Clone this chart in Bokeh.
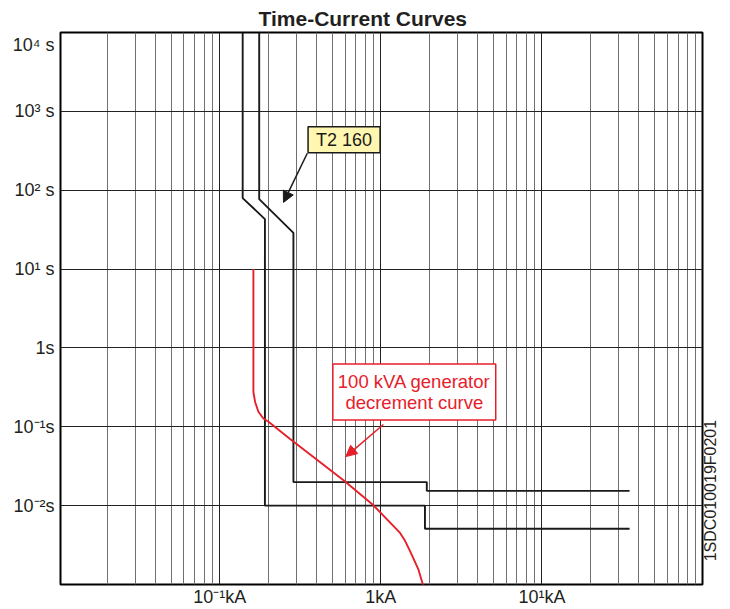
import math
from bokeh.plotting import figure
from bokeh.models import Range1d, FixedTicker, Label, Arrow, NormalHead, LogAxis
from bokeh.embed import file_html
from bokeh.resources import INLINE

# ---- data (kA, s) ----
t2_a_current = [0.139, 0.139, 0.191, 0.191, 1.88, 1.88, 35.0]
t2_a_time = [1e4, 79.5, 43.0, 0.01, 0.01, 0.0051, 0.0051]
t2_b_current = [0.176, 0.176, 0.287, 0.287, 1.93, 1.93, 35.0]
t2_b_time = [1e4, 77.0, 28.8, 0.0199, 0.0199, 0.0154, 0.0154]

gen_current = [0.162, 0.162, 0.166, 0.174, 0.1869, 0.201, 0.2737, 0.6006,
               0.900, 1.317, 1.414, 1.52, 1.711, 1.83]
gen_time = [10.0, 0.276, 0.2066, 0.155, 0.1273, 0.1156, 0.0698, 0.0202,
            0.0101, 0.00451, 0.00358, 0.00265, 0.00156, 0.00098]

x_major = [0.01, 0.1, 1, 10, 100]
x_labels = {0.01: "", 0.1: "10\u207b\u00b9kA", 1: "1kA", 10: "10\u00b9kA", 100: ""}
y_grid = [1e-3, 1e-2, 1e-1, 1, 10, 100, 1e3, 1e4]
top_label_pos = 6850.0   # the 10^4 label sits a little below the top edge
y_ticks = [1e-2, 1e-1, 1, 10, 100, 1e3, top_label_pos]
y_labels = {1e-2: "10\u207b\u00b2s", 1e-1: "10\u207b\u00b9s", 1: "1s",
            10: "10\u00b9 s", 100: "10\u00b2 s", 1e3: "10\u00b3 s",
            top_label_pos: "10\u2074 s"}

t2_text = "T2 160"
t2_text_pos = (0.592, 438.0)
t2_arrow = (0.350, 294.0, 0.249, 70.0)
gen_text = "100 kVA generator\ndecrement curve"
gen_text_pos = (1.614, 0.277)
gen_arrow = (1.038, 0.107, 0.607, 0.0419)
code_text = "1SDC010019F0201"
code_pos = 0.00197

RED = "#e6202b"
INK = "#231f20"
FONT = "Liberation Sans"

p = figure(width=730, height=609, x_axis_type="log", y_axis_type="log",
           x_range=Range1d(0.01029, 99.2), y_range=Range1d(1e-3, 1e4),
           output_backend="svg", toolbar_location=None,
           min_border_left=60, min_border_right=27, min_border_top=32,
           min_border_bottom=23)

p.title.text = "Time-Current Curves"
p.title.text_font = FONT
p.title.text_font_size = "21px"
p.title.text_font_style = "bold"
p.title.text_color = INK
p.title.align = "left"
p.title.offset = 198
p.title.standoff = 5

p.outline_line_color = "black"
p.outline_line_width = 2
p.background_fill_color = "white"
p.border_fill_color = "white"

minor = [k * 10.0 ** e for e in range(-2, 2) for k in range(2, 10)]
xax = p.xaxis[0]
yax = p.yaxis[0]
xax.ticker = FixedTicker(ticks=x_major, minor_ticks=minor)
xax.major_label_overrides = x_labels
yax.ticker = FixedTicker(ticks=y_ticks, minor_ticks=[])
yax.major_label_overrides = y_labels

p.xgrid[0].ticker = FixedTicker(ticks=x_major, minor_ticks=minor)
p.ygrid[0].ticker = FixedTicker(ticks=y_grid, minor_ticks=[])

right = LogAxis(ticker=FixedTicker(ticks=[code_pos], minor_ticks=[]),
                major_label_overrides={code_pos: code_text},
                major_label_orientation=math.pi / 2)
p.add_layout(right, "right")

for ax in (xax, yax, right):
    ax.axis_line_color = None
    ax.major_tick_line_color = None
    ax.minor_tick_line_color = None
    ax.major_tick_out = 0
    ax.major_tick_in = 0
    ax.minor_tick_out = 0
    ax.minor_tick_in = 0
    ax.major_label_text_font = FONT
    ax.major_label_text_font_size = "18px"
    ax.major_label_text_color = INK
xax.major_label_standoff = 2
yax.major_label_standoff = 6
right.major_label_text_font_size = "16px"
right.major_label_standoff = 8

p.xgrid.grid_line_color = "#222222"
p.xgrid.grid_line_width = 1
p.xgrid.minor_grid_line_color = "#6f6f6f"
p.xgrid.minor_grid_line_width = 1
p.ygrid.grid_line_color = "#222222"
p.ygrid.grid_line_width = 1

p.line(t2_a_current, t2_a_time, line_color="#1a1a1a", line_width=1.9)
p.line(t2_b_current, t2_b_time, line_color="#1a1a1a", line_width=1.9)
p.line(gen_current, gen_time, line_color=RED, line_width=1.9)

p.add_layout(Arrow(x_start=t2_arrow[0], y_start=t2_arrow[1], x_end=t2_arrow[2],
                   y_end=t2_arrow[3], line_color="#1a1a1a", line_width=1.5,
                   end=NormalHead(size=11, fill_color="#1a1a1a", line_color="#1a1a1a")))
p.add_layout(Label(x=t2_text_pos[0], y=t2_text_pos[1], text=t2_text,
                   text_align="center", text_baseline="middle", text_font=FONT,
                   text_font_size="18px", text_color="#1a1a1a",
                   background_fill_color="#fff7b0", border_line_color="#1a1a1a",
                   border_line_width=1.5,
                   padding=dict(left=8, right=8, top=3, bottom=3)))

p.add_layout(Arrow(x_start=gen_arrow[0], y_start=gen_arrow[1], x_end=gen_arrow[2],
                   y_end=gen_arrow[3], line_color=RED, line_width=1.5,
                   end=NormalHead(size=11, fill_color=RED, line_color=RED)))
p.add_layout(Label(x=gen_text_pos[0], y=gen_text_pos[1], text=gen_text,
                   text_align="center", text_baseline="middle", text_font=FONT,
                   text_font_size="18.5px", text_color=RED, text_line_height=1.0,
                   background_fill_color="white", border_line_color=RED,
                   border_line_width=1.5,
                   padding=dict(left=5, right=5, top=7, bottom=7)))

open("out.html", "w").write(file_html(p, INLINE))
